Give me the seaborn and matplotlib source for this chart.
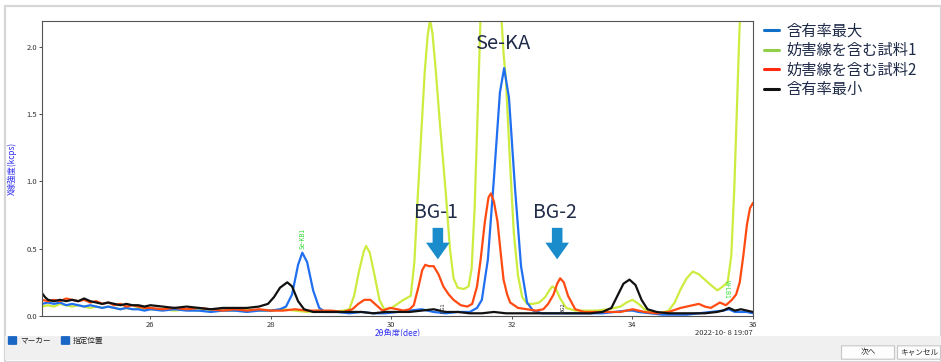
#!/usr/bin/env python3

# Libraries
import seaborn as sns
import pandas as pd
from matplotlib import pyplot as plt
from matplotlib.lines import Line2D
from matplotlib.patches import Rectangle, FancyBboxPatch

# series labels (legend order)
labels = ['含有率最大', '妨害線を含む試料1', '妨害線を含む試料2', '含有率最小']

# 含有率最大 (blue)
x_max = [24.2, 24.3, 24.4, 24.5, 24.6, 24.7, 24.8, 24.9, 25.0, 25.1, 25.2, 25.3, 25.4, 25.5, 25.6, 25.7, 25.8, 25.9, 26.0,
         26.2, 26.4, 26.6, 26.8, 27.0, 27.2, 27.4, 27.6, 27.8, 28.0,
         28.15, 28.25, 28.35, 28.45, 28.52, 28.6, 28.7, 28.8, 28.9,
         29.1, 29.3, 29.5, 29.7, 29.9, 30.1, 30.3, 30.5, 30.7, 30.9, 31.1, 31.3,
         31.42, 31.5, 31.6, 31.7, 31.8, 31.87, 31.95, 32.05, 32.15, 32.25, 32.35,
         32.5, 32.7, 32.9, 33.1, 33.3, 33.5, 33.7, 33.9, 34.0, 34.1, 34.3, 34.5, 34.7, 34.9, 35.1, 35.3, 35.5, 35.6, 35.7, 35.9, 36.0]
y_max = [0.09, 0.10, 0.09, 0.10, 0.08, 0.09, 0.08, 0.07, 0.08, 0.07, 0.06, 0.07, 0.06, 0.05, 0.06, 0.05, 0.05, 0.04, 0.05,
         0.04, 0.05, 0.04, 0.04, 0.03, 0.04, 0.04, 0.03, 0.04, 0.04,
         0.05, 0.07, 0.16, 0.38, 0.47, 0.40, 0.19, 0.06, 0.03,
         0.03, 0.02, 0.03, 0.02, 0.02, 0.03, 0.04, 0.05, 0.03, 0.02, 0.03, 0.03,
         0.06, 0.12, 0.42, 1.02, 1.66, 1.84, 1.62, 0.95, 0.37, 0.10, 0.04,
         0.02, 0.02, 0.02, 0.02, 0.02, 0.02, 0.03, 0.04, 0.04, 0.03, 0.02, 0.01, 0.01, 0.01, 0.02, 0.03, 0.04, 0.05, 0.03, 0.03, 0.02]

# 妨害線を含む試料1 (yellow-green)
x_s1 = [24.2, 24.3, 24.4, 24.5, 24.6, 24.7, 24.8, 24.9, 25.0, 25.1, 25.2, 25.3, 25.4, 25.5, 25.6, 25.7, 25.8, 25.9, 26.0,
        26.2, 26.4, 26.6, 26.8, 27.0, 27.2, 27.4, 27.6, 27.8, 28.0, 28.2, 28.4, 28.6, 28.8, 29.0, 29.2,
        29.3, 29.38, 29.46, 29.54, 29.58, 29.64, 29.72, 29.8, 29.88,
        30.0, 30.1, 30.2, 30.32, 30.38, 30.44, 30.5, 30.55, 30.6, 30.64, 30.68, 30.73, 30.8, 30.9, 30.97, 31.03, 31.1,
        31.2, 31.28, 31.33, 31.38, 31.43, 31.48, 31.55, 31.65, 31.75, 31.82, 31.86, 31.9, 31.96, 32.03, 32.1, 32.17, 32.25,
        32.35, 32.45, 32.55, 32.62, 32.67, 32.73, 32.8, 32.9, 33.05, 33.2, 33.4, 33.6, 33.8, 33.9, 34.0, 34.1, 34.2,
        34.3, 34.45, 34.6, 34.7, 34.8, 34.9, 35.0, 35.1, 35.2, 35.3, 35.41, 35.5, 35.58, 35.64, 35.69, 35.73, 35.77, 35.8]
y_s1 = [0.07, 0.08, 0.07, 0.09, 0.08, 0.07, 0.08, 0.07, 0.06, 0.07, 0.06, 0.07, 0.06, 0.05, 0.06, 0.05, 0.06, 0.05, 0.05,
        0.05, 0.04, 0.05, 0.04, 0.05, 0.04, 0.04, 0.05, 0.04, 0.04, 0.05, 0.04, 0.03, 0.04, 0.03, 0.04,
        0.05, 0.15, 0.33, 0.48, 0.52, 0.47, 0.30, 0.12, 0.05,
        0.06, 0.09, 0.12, 0.15, 0.40, 0.92, 1.40, 1.80, 2.08, 2.20, 2.10, 1.85, 1.45, 0.92, 0.50, 0.28, 0.21,
        0.20, 0.22, 0.35, 0.80, 1.50, 2.25, 3.3, 4.0, 3.0, 2.25, 1.95, 1.75, 1.20, 0.62, 0.30, 0.14, 0.09,
        0.09, 0.10, 0.14, 0.19, 0.22, 0.20, 0.13, 0.06, 0.04, 0.04, 0.04, 0.05, 0.07, 0.10, 0.12, 0.09, 0.05,
        0.03, 0.02, 0.04, 0.10, 0.20, 0.28, 0.33, 0.31, 0.27, 0.23, 0.19, 0.22, 0.25, 0.45, 0.95, 1.50, 2.05, 2.40]

# 妨害線を含む試料2 (red)
x_s2 = [24.2, 24.3, 24.4, 24.5, 24.6, 24.7, 24.8, 24.9, 25.0, 25.1, 25.2, 25.3, 25.4, 25.5, 25.6, 25.7, 25.8, 25.9, 26.0,
        26.2, 26.4, 26.6, 26.8, 27.0, 27.2, 27.4, 27.6, 27.8, 28.0, 28.2, 28.4, 28.6, 28.8, 29.0, 29.2,
        29.35, 29.45, 29.55, 29.65, 29.75, 29.85,
        29.98, 30.1, 30.2, 30.3, 30.37, 30.45, 30.51, 30.56, 30.62, 30.7, 30.78, 30.86, 30.95, 31.03, 31.15,
        31.26, 31.34, 31.42, 31.48, 31.55, 31.61, 31.65, 31.7, 31.76, 31.81, 31.86, 31.92, 31.97, 32.1, 32.25,
        32.4, 32.52, 32.6, 32.69, 32.75, 32.8, 32.86, 32.93, 33.05, 33.2,
        33.4, 33.6, 33.8, 34.0, 34.2, 34.4, 34.6, 34.8, 35.0, 35.1, 35.2, 35.3, 35.45, 35.55, 35.65, 35.72, 35.78,
        35.84, 35.9, 35.95, 36.0]
y_s2 = [0.12, 0.11, 0.12, 0.11, 0.13, 0.12, 0.11, 0.12, 0.10, 0.11, 0.09, 0.10, 0.08, 0.09, 0.07, 0.08, 0.07, 0.06, 0.06,
        0.05, 0.06, 0.05, 0.06, 0.05, 0.04, 0.05, 0.04, 0.05, 0.04, 0.04, 0.05, 0.04, 0.04, 0.04, 0.03,
        0.05, 0.09, 0.12, 0.12, 0.08, 0.04,
        0.06, 0.05, 0.04, 0.05, 0.08, 0.22, 0.34, 0.38, 0.37, 0.37, 0.31, 0.22, 0.16, 0.12, 0.08,
        0.07, 0.09, 0.22, 0.42, 0.70, 0.88, 0.91, 0.85, 0.70, 0.48, 0.27, 0.16, 0.10, 0.06, 0.05,
        0.04, 0.05, 0.09, 0.16, 0.24, 0.28, 0.25, 0.15, 0.05, 0.03,
        0.03, 0.03, 0.03, 0.05, 0.03, 0.02, 0.03, 0.06, 0.08, 0.09, 0.07, 0.06, 0.10, 0.08, 0.12, 0.16, 0.25,
        0.45, 0.68, 0.80, 0.84]

# 含有率最小 (black)
x_min = [24.2, 24.25, 24.3, 24.4, 24.5, 24.6, 24.7, 24.8, 24.9, 25.0, 25.1, 25.2, 25.3, 25.4, 25.5, 25.6, 25.7, 25.8, 25.9, 26.0,
         26.2, 26.4, 26.6, 26.8, 27.0, 27.2, 27.4, 27.6, 27.8,
         27.95, 28.05, 28.15, 28.27, 28.35, 28.45, 28.55, 28.7,
         28.9, 29.1, 29.3, 29.5, 29.7, 29.9, 30.1, 30.3, 30.5, 30.7, 30.9, 31.1, 31.3, 31.5, 31.7, 31.9,
         32.1, 32.3, 32.5, 32.7, 32.9, 33.1, 33.3, 33.5,
         33.65, 33.75, 33.85, 33.95, 34.05, 34.15, 34.25, 34.4,
         34.6, 34.8, 35.0, 35.2, 35.4, 35.5, 35.6, 35.7, 35.8, 35.9, 36.0]
y_min = [0.17, 0.14, 0.12, 0.11, 0.12, 0.11, 0.12, 0.11, 0.13, 0.11, 0.10, 0.09, 0.10, 0.09, 0.08, 0.09, 0.08, 0.08, 0.07, 0.08,
         0.07, 0.06, 0.07, 0.06, 0.05, 0.06, 0.06, 0.06, 0.07,
         0.09, 0.14, 0.21, 0.25, 0.22, 0.11, 0.05, 0.03,
         0.03, 0.03, 0.03, 0.03, 0.02, 0.03, 0.03, 0.03, 0.04, 0.05, 0.03, 0.03, 0.02, 0.02, 0.03, 0.02,
         0.02, 0.02, 0.02, 0.02, 0.02, 0.02, 0.02, 0.03,
         0.06, 0.15, 0.24, 0.27, 0.23, 0.12, 0.05, 0.03,
         0.02, 0.02, 0.02, 0.02, 0.03, 0.04, 0.06, 0.04, 0.05, 0.04, 0.03]

x_ticks = [26, 28, 30, 32, 34, 36]
y_ticks = [0.0, 0.5, 1.0, 1.5, 2.0]

line_colors = {labels[0]: '#1f6ff0', labels[1]: '#cdec40', labels[2]: '#ff4a12', labels[3]: '#111111'}
legend_colors = ['#1070c8', '#8fd048', '#ff2a10', '#111111']


def build_frame():
    parts = []
    for name, xs, ys in [(labels[1], x_s1, y_s1), (labels[0], x_max, y_max),
                         (labels[2], x_s2, y_s2), (labels[3], x_min, y_min)]:
        parts.append(pd.DataFrame({'x': xs, 'y': ys, 'series': name}))
    return pd.concat(parts, ignore_index=True)


def plot_chart():
    sns.set_theme(style='white')
    plt.rcParams['font.family'] = ['Noto Sans CJK JP', 'DejaVu Sans']

    fig = plt.figure(figsize=(9.41, 3.62), dpi=100)
    fig.patch.set_facecolor('white')

    # window chrome
    fig.add_artist(Rectangle((5 / 941, 0), 936 / 941, 356 / 362, transform=fig.transFigure,
                             fill=False, ec='#d6d6d6', lw=1.6))
    fig.add_artist(Rectangle((5 / 941, 2 / 362), 936 / 941, 24 / 362, transform=fig.transFigure,
                             fc='#f0f0f0', ec='none'))

    ax = fig.add_axes([42 / 941, 46 / 362, 711 / 941, 295 / 362])
    df = build_frame()
    sns.lineplot(data=df, x='x', y='y', hue='series', hue_order=[labels[1], labels[0], labels[2], labels[3]],
                 palette=line_colors, estimator=None, sort=False, lw=1.6, legend=False, ax=ax)

    ax.set_xlim(24.2, 36)
    ax.set_ylim(0, 2.19)
    ax.set_xticks(x_ticks)
    ax.set_yticks(y_ticks)
    ax.set_xticklabels([str(t) for t in x_ticks])
    ax.set_yticklabels(['%.1f' % t for t in y_ticks])
    ax.tick_params(axis='both', labelsize=5.5, length=2.5, width=0.6, pad=1, colors='#333333', direction='out')
    ax.tick_params(left=True, bottom=True)
    for sp in ax.spines.values():
        sp.set_color('#555555')
        sp.set_linewidth(0.8)
    ax.set_xlabel('2θ角度(deg)', fontsize=6, color='#3030f0', labelpad=0)
    ax.set_ylabel('X線強度(kcps)', fontsize=6, color='#3030f0')
    ax.yaxis.set_label_coords(-0.036, 0.5)
    ax.text(1.0, -0.045, '2022-10- 8 19:07', transform=ax.transAxes, ha='right', va='top',
            fontsize=5.5, color='#333333')

    # marker labels
    ax.text(28.52, 0.5, 'Se-KB1', rotation=90, fontsize=4.5, color='#33dd33', ha='center', va='bottom')
    ax.text(35.56, 0.27, 'W-LB1', rotation=270, fontsize=4.5, color='#33dd33', ha='center', va='top')
    ax.text(30.85, 0.02, 'BG1', rotation=90, fontsize=4, color='#333333', ha='center', va='bottom')
    ax.text(32.84, 0.02, 'BG2', rotation=90, fontsize=4, color='#333333', ha='center', va='bottom')

    # callouts
    navy = '#1f2b48'
    ax.text(31.84, 2.02, 'Se-KA', fontsize=14.5, color=navy, ha='center', va='center')
    for xc, name in [(30.77, 'BG-1'), (32.75, 'BG-2')]:
        ax.text(xc - 0.04, 0.77, name, fontsize=14, color=navy, ha='center', va='center')
        ax.annotate('', xy=(xc, 0.40), xytext=(xc, 0.675),
                    arrowprops=dict(arrowstyle='simple,head_length=0.6,head_width=0.85,tail_width=0.38',
                                    mutation_scale=20, color='#1a8ccc', lw=0))

    # legend
    handles = [Line2D([0], [0], color=c, lw=2.2) for c in legend_colors]
    fig.legend(handles, labels, loc='upper left', bbox_to_anchor=(758 / 941, 346 / 362), frameon=False,
               fontsize=11, handlelength=1.0, handletextpad=0.45, labelspacing=0.18, borderaxespad=0,
               labelcolor='#1f2b48')

    # bottom controls
    for bx, txt in [(9, 'マーカー'), (62, '指定位置')]:
        fig.add_artist(FancyBboxPatch((bx / 941, 18 / 362), 7 / 941, 7 / 362, transform=fig.transFigure,
                                      boxstyle='round,pad=0.0005', fc='#1a66c4', ec='#1a66c4'))
        fig.text((bx + 11) / 941, 21.5 / 362, txt, fontsize=5.5, color='#222222', va='center')
    for bx, bw, txt in [(842, 52, '次へ'), (898, 42, 'キャンセル')]:
        fig.add_artist(FancyBboxPatch((bx / 941, 3 / 362), bw / 941, 13 / 362, transform=fig.transFigure,
                                      boxstyle='round,pad=0.0005', fc='#fdfdfd', ec='#c8c8c8', lw=0.8))
        fig.text((bx + bw / 2) / 941, 9.5 / 362, txt, fontsize=5.5, color='#222222', ha='center', va='center')

    fig.savefig('out.png', dpi=100)


if __name__ == '__main__':
    plot_chart()
